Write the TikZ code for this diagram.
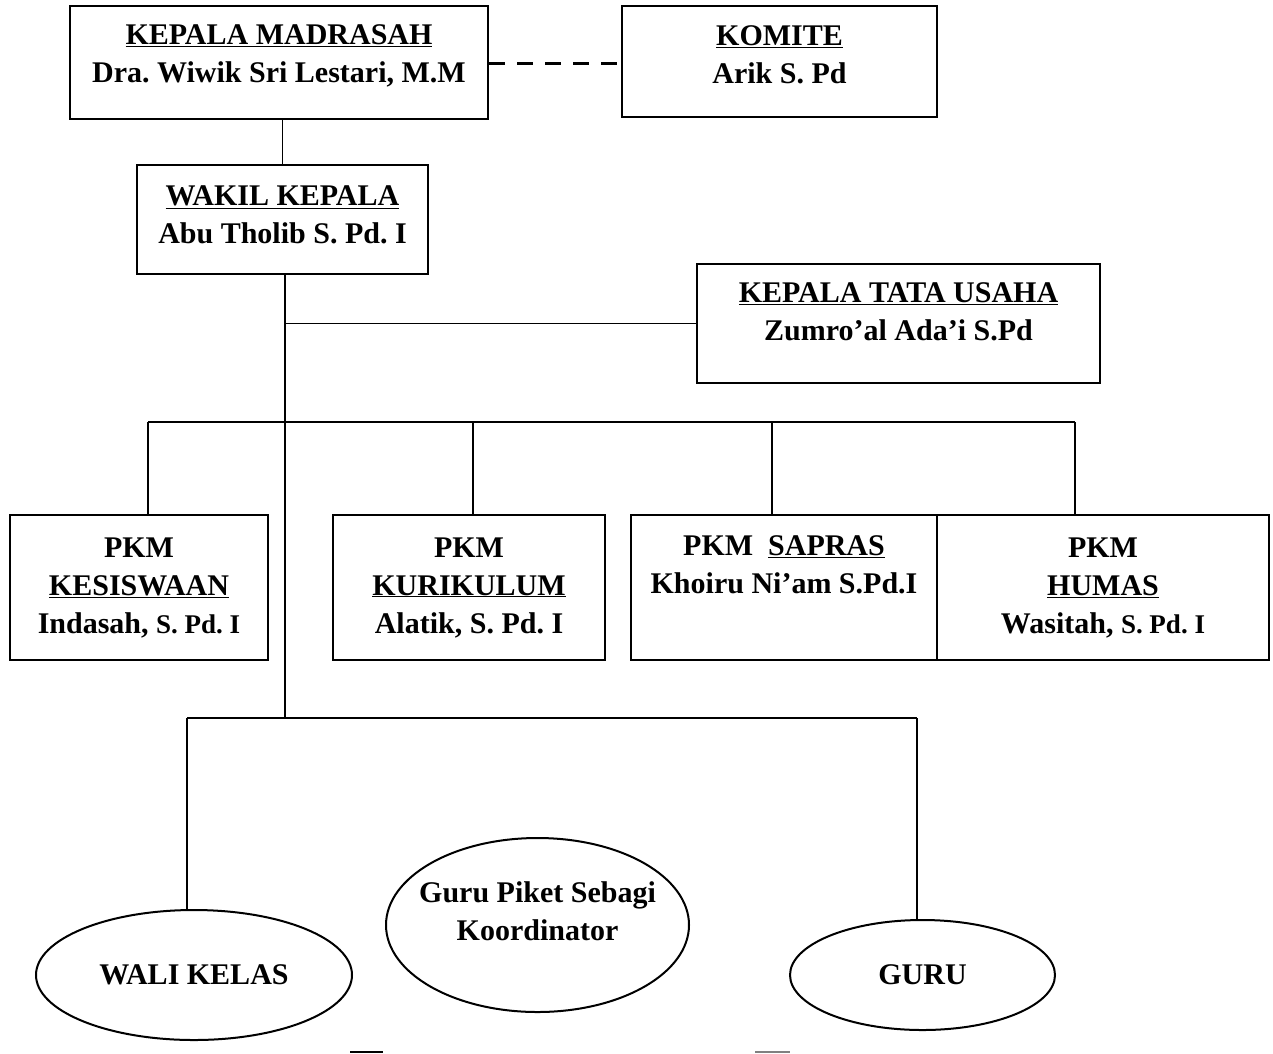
\documentclass[tikz,border=0pt]{standalone}
\usepackage{fontspec}
\setmainfont{Liberation Serif}
\usetikzlibrary{shapes.geometric}

\begin{document}
\begin{tikzpicture}[x=1pt, y=-1pt, line width=1.5pt,
    kotak/.style={draw, rectangle, align=center, inner sep=0pt, line width=2pt, font=\fontsize{30}{38}\selectfont\bfseries\frenchspacing},
    elips/.style={draw, ellipse, align=center, inner sep=-20pt, line width=2pt, font=\fontsize{30}{38}\selectfont\bfseries\frenchspacing}]
    \useasboundingbox (0,0) rectangle (1273,1053);
    % Pimpinan
    \node[kotak, minimum width=418pt, minimum height=113pt] (kepala) at (279,62.5) {\underline{KEPALA MADRASAH}\\Dra. Wiwik Sri Lestari, M.M\\[-21pt]\mbox{}};
    \node[kotak, minimum width=315pt, minimum height=111pt] (komite) at (779.5,61.5) {\underline{KOMITE}\\Arik S. Pd\\[-25pt]\mbox{}};
    \node[kotak, minimum width=291pt, minimum height=109pt] (wakil) at (282.5,219.5) {\underline{WAKIL KEPALA}\\Abu Tholib S. Pd. I\\[-29pt]\mbox{}};
    \node[kotak, minimum width=403pt, minimum height=119pt] (tu) at (898.5,323.5) {\underline{KEPALA TATA USAHA}\\Zumro’al Ada’i S.Pd\\[-15pt]\mbox{}};
    % PKM
    \node[kotak, minimum width=258pt, minimum height=145pt] (kesiswaan) at (139,587.5) {PKM\\\underline{KESISWAAN}\\Indasah, {\fontsize{27}{38}\selectfont S. Pd. I}};
    \node[kotak, minimum width=272pt, minimum height=145pt] (kurikulum) at (469,587.5) {PKM\\\underline{KURIKULUM}\\Alatik, S. Pd. I};
    \node[kotak, minimum width=306pt, minimum height=145pt] (sapras) at (784,587.5) {PKM~~\underline{SAPRAS}\\Khoiru Ni’am S.Pd.I\\[8pt]\mbox{}};
    \node[kotak, minimum width=332pt, minimum height=145pt] (humas) at (1103,587.5) {PKM\\\underline{HUMAS}\\Wasitah, {\fontsize{27}{38}\selectfont S. Pd. I}};
    % Pelaksana
    \node[elips, minimum width=316pt, minimum height=130pt] (wali) at (194,975) {WALI KELAS};
    \node[elips, minimum width=303pt, minimum height=174pt] (piket) at (537.5,925) {Guru Piket Sebagi\\Koordinator\\[-10pt]\mbox{}};
    \node[elips, minimum width=265pt, minimum height=110pt] (guru) at (922.5,975) {GURU};

    \coordinate (trunk) at (285,718); \coordinate (bka) at (148,422); \coordinate (bkb) at (473,422); \coordinate (bkc) at (772,422); \coordinate (bkd) at (1075,422);
    \coordinate (lka) at (187,718); \coordinate (lkb) at (917,718);
    \draw[line width=3pt, dash pattern=on 16pt off 12pt] (kepala.east |- 0,63) -- (komite.west |- 0,63);
    \draw (wakil.north |- kepala.south) -- (wakil.north) (trunk |- wakil.south) -- (trunk) (trunk |- tu.west) -- (tu.west);
    \draw (bka) -- (bkd) (bka) -- (bka |- kesiswaan.north) (bkb) -- (bkb |- kurikulum.north) (bkc) -- (bkc |- sapras.north) (bkd) -- (bkd |- humas.north);
    \draw (lka) -- (lkb) (lka) -- (lka |- wali.north) (lkb) -- (lkb |- guru.north);
    \draw[line width=2pt] (350,1052) -- (383,1052);
    \draw[line width=2pt, gray] (755,1052) -- (790,1052);
\end{tikzpicture}
\end{document}
